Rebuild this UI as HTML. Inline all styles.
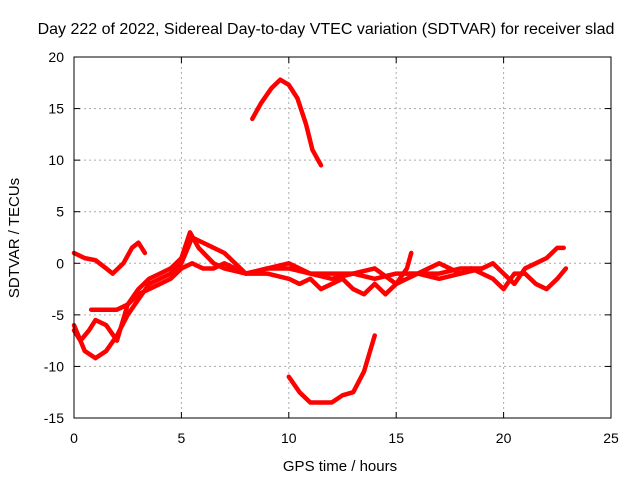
<!DOCTYPE html>
<html><head><meta charset="utf-8"><style>
body{margin:0;background:#fff;}
svg text{font-family:"Liberation Sans",sans-serif;font-size:14px;fill:#000;}
</style></head><body>
<svg id="chart" width="640" height="480" xmlns="http://www.w3.org/2000/svg">
<rect width="640" height="480" fill="#fff"/>
<text x="326" y="34" text-anchor="middle" style="font-size:16px">Day 222 of 2022, Sidereal Day-to-day VTEC variation (SDTVAR) for receiver slad</text>
<g id="grid"></g><g id="series"></g><g id="axes"></g>
<text x="340" y="471" text-anchor="middle" style="font-size:15px">GPS time / hours</text>
<text x="19" y="238" text-anchor="middle" style="font-size:15px" transform="rotate(-90 19 238)">SDTVAR / TECUs</text>
</svg>
<script>
const xTicks=[0,5,10,15,20,25];
const yTicks=[-15,-10,-5,0,5,10,15,20];
const trackA=[[8.3,14],[8.7,15.5],[9.2,17],[9.6,17.8],[10,17.3],[10.4,16],[10.8,13.5],[11.1,11],[11.5,9.5]];
const trackB=[[10,-11],[10.5,-12.5],[11,-13.5],[11.5,-13.5],[12,-13.5],[12.5,-12.8],[13,-12.5],[13.5,-10.5],[14,-7]];
const trackC=[[0,1],[0.5,0.5],[1,0.3],[1.5,-0.5],[1.8,-1],[2.3,0],[2.7,1.5],[3,2],[3.3,1]];
const trackD=[[0,-6],[0.5,-8.5],[1,-9.2],[1.5,-8.5],[2,-7],[2.5,-5],[3,-3.5],[3.5,-2],[4,-1.5],[4.5,-1],[5,0],[5.5,2.5],[6,2],[6.5,1.5],[7,1],[7.5,0],[8,-1],[9,-0.5],[10,-0.5],[11,-1],[12,-1.5],[13,-1],[14,-1.5],[15,-1],[16,-1],[17,-1],[18,-0.5],[19,-0.5],[19.5,0],[20,-1],[20.5,-2],[21,-0.5],[21.5,0],[22,0.5],[22.5,1.5],[22.8,1.5]];
const trackE=[[0,-6.5],[0.3,-7.5],[0.7,-6.5],[1,-5.5],[1.5,-6],[2,-7.5],[2.5,-4],[3,-2.5],[3.5,-1.5],[4,-1],[4.5,-0.5],[5,0.5],[5.4,3],[5.8,1.5],[6.5,0],[7,-0.5],[8,-1],[9,-1],[10,-1.5],[10.5,-2],[11,-1.5],[11.5,-2.5],[12,-2],[12.5,-1.5],[13,-2.5],[13.5,-3],[14,-2],[14.5,-3],[15,-2],[15.5,-1.5],[16,-1],[17,-1.5],[18,-1],[18.5,-0.5],[19,-1],[19.5,-1.5],[20,-2.5],[20.5,-1],[21,-1],[21.5,-2],[22,-2.5],[22.5,-1.5],[22.9,-0.5]];
const trackF=[[0.8,-4.5],[1.5,-4.5],[2,-4.5],[2.5,-4],[3,-3],[3.5,-2.5],[4,-2],[4.5,-1.5],[5,-0.5],[5.5,0],[6,-0.5],[6.5,-0.5],[7,0],[7.5,-0.5],[8,-1],[9,-0.5],[10,0],[11,-1],[12,-1],[13,-1],[14,-0.5],[15,-2],[15.5,-0.5],[15.7,1]];
const trackG=[[15.5,-1],[16,-1],[16.5,-0.5],[17,0],[18,-1],[19,-0.5]];
const tracks=[trackA,trackB,trackC,trackD,trackE,trackF,trackG];
const X0=74,X1=611,Y0=418,Y1=57;
const xs=v=>X0+(v-0)/25*(X1-X0);
const ys=v=>Y0-(v+15)/35*(Y0-Y1);
const NS="http://www.w3.org/2000/svg";
function mk(t,a,p){const e=document.createElementNS(NS,t);for(const k in a)e.setAttribute(k,a[k]);p.appendChild(e);return e;}
const grid=document.getElementById('grid'),axes=document.getElementById('axes'),ser=document.getElementById('series');
xTicks.forEach(t=>{
 if(t>0&&t<25){const l=mk('line',{x1:xs(t),x2:xs(t),y1:Y1,y2:Y0,stroke:'#aaa','stroke-dasharray':'2,3'},grid);
 
 }
 const tx=mk('text',{x:xs(t),y:Y0+25,'text-anchor':'middle'},axes);tx.textContent=t;
 
 
 mk('line',{x1:xs(t),x2:xs(t),y1:Y0,y2:Y0-6,stroke:'#000'},axes);
 mk('line',{x1:xs(t),x2:xs(t),y1:Y1,y2:Y1+6,stroke:'#000'},axes);
});
yTicks.forEach(t=>{
 if(t>-15&&t<20){const l=mk('line',{x1:X0,x2:X1,y1:ys(t),y2:ys(t),stroke:'#aaa','stroke-dasharray':'2,3'},grid);
 
 }
 const tx=mk('text',{x:X0-10,y:ys(t)+5,'text-anchor':'end'},axes);tx.textContent=t;
 
 
 mk('line',{x1:X0,x2:X0+6,y1:ys(t),y2:ys(t),stroke:'#000'},axes);
 mk('line',{x1:X1,x2:X1-6,y1:ys(t),y2:ys(t),stroke:'#000'},axes);
});
const fr=mk('rect',{x:X0,y:Y1,width:X1-X0,height:Y0-Y1,fill:'none',stroke:'#000'},axes);


tracks.forEach(tr=>{
 const p=mk('polyline',{points:tr.map(d=>xs(d[0])+','+ys(d[1])).join(' '),fill:'none',stroke:'#f00','stroke-width':4.5,'stroke-linejoin':'round','stroke-linecap':'round'},ser);
 
 
});
</script>
</body></html>
